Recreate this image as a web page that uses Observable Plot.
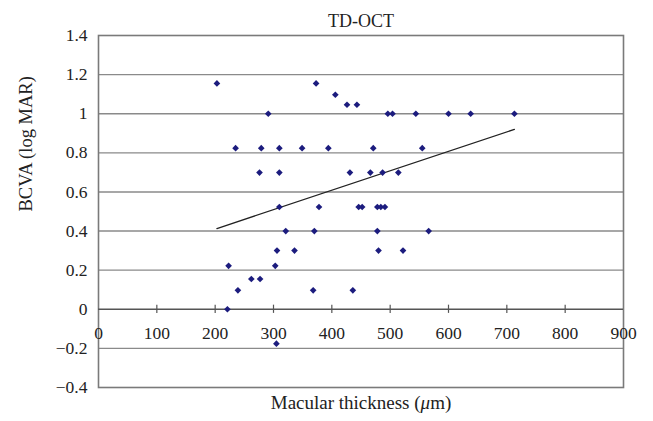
<!DOCTYPE html>
<html><head><meta charset="utf-8">
<script src="https://cdn.jsdelivr.net/npm/d3@7"></script>
<script src="https://cdn.jsdelivr.net/npm/@observablehq/plot@0.6"></script>
<style>body{margin:0;background:#fff} svg{display:block}</style>
</head><body><div id="chart"></div>
<script>
// Macular thickness (µm) and BCVA (log MAR)
const thickness = [203, 373, 406, 426, 443,
  291, 496, 504, 544, 600, 638, 713,
  235, 279, 310, 349, 394, 471, 555,
  276, 310, 431, 466, 487, 514,
  310, 378, 446, 452, 478, 484, 491,
  321, 370, 478, 566,
  306, 336, 480, 522,
  223, 303,
  262, 277,
  239, 368, 436,
  221,
  305];
const bcva = [1.155, 1.155, 1.097, 1.046, 1.046,
  1.0, 1.0, 1.0, 1.0, 1.0, 1.0, 1.0,
  0.824, 0.824, 0.824, 0.824, 0.824, 0.824, 0.824,
  0.699, 0.699, 0.699, 0.699, 0.699, 0.699,
  0.523, 0.523, 0.523, 0.523, 0.523, 0.523, 0.523,
  0.40, 0.40, 0.40, 0.40,
  0.30, 0.30, 0.30, 0.30,
  0.222, 0.222,
  0.155, 0.155,
  0.097, 0.097, 0.097,
  0,
  -0.176];
const trendX = [203, 713];
const trendY = [0.413, 0.92];
const xTicks = [0, 100, 200, 300, 400, 500, 600, 700, 800, 900];
const xTickLabels = ["0", "100", "200", "300", "400", "500", "600", "700", "800", "900"];
const yTicks = [-0.4, -0.2, 0, 0.2, 0.4, 0.6, 0.8, 1, 1.2, 1.4];
const yTickLabels = ["\u22120.4", "\u22120.2", "0", "0.2", "0.4", "0.6", "0.8", "1", "1.2", "1.4"];
const gridY = [-0.2, 0.2, 0.4, 0.6, 0.8, 1, 1.2];
const title = "TD-OCT";
const xLabel = "Macular thickness (\u03bcm)";
const yLabel = "BCVA (log MAR)";

const points = thickness.map((x, i) => ({x, y: bcva[i]}));
const trend = trendX.map((x, i) => ({x, y: trendY[i]}));
const xTickData = xTicks.map((v, i) => ({v, label: xTickLabels[i]}));
const innerTicks = xTicks.slice(1, -1);

const font = "'Liberation Serif', 'DejaVu Serif', serif";

const chart = Plot.plot({
  width: 653,
  height: 421,
  marginLeft: 98,
  marginRight: 30,
  marginTop: 35,
  marginBottom: 34,
  style: {fontFamily: font, fontSize: "17px", color: "#222", background: "#fff"},
  x: {domain: [0, 900], axis: null},
  y: {domain: [-0.4, 1.4], axis: null},
  marks: [
    Plot.ruleY(gridY, {stroke: "#8a8a8a", strokeWidth: 1.4}),
    Plot.frame({stroke: "#7a7a7a", strokeWidth: 1.6}),
    Plot.ruleY([0], {stroke: "#555", strokeWidth: 1.6}),
    Plot.ruleX(innerTicks, {y1: -0.021, y2: 0.021, stroke: "#555", strokeWidth: 1.2}),
    Plot.line(trend, {x: "x", y: "y", stroke: "#222", strokeWidth: 1.3}),
    Plot.dot(points, {x: "x", y: "y", symbol: "diamond2", r: 3, fill: "#1c1c7e", stroke: "none"}),
    Plot.text(xTickData, {x: "v", y: 0, text: "label", dy: 24, fill: "#222", fontSize: 17.5}),
    Plot.axisY(yTicks, {tickSize: 0, tickPadding: 11, fontSize: 17.5,
      tickFormat: d => yTickLabels[yTicks.indexOf(d)], label: null, color: "#222"}),
    Plot.text([title], {frameAnchor: "top", dy: -21, fill: "#222", fontSize: 18}),
    Plot.text([xLabel], {frameAnchor: "bottom", dy: 21, fill: "#222", fontSize: 19, className: "xlab"}),
    Plot.text([yLabel], {frameAnchor: "left", dx: -72, rotate: -90, fill: "#222", fontSize: 18.5})
  ]
});
document.getElementById("chart").appendChild(chart);

// italic mu in x label
d3.select(chart).selectAll("g.xlab text").each(function() {
  const t = d3.select(this);
  t.text(null);
  t.append("tspan").text("Macular thickness (");
  t.append("tspan").attr("font-style", "italic").text("\u03bc");
  t.append("tspan").text("m)");
});
</script>
</body></html>
